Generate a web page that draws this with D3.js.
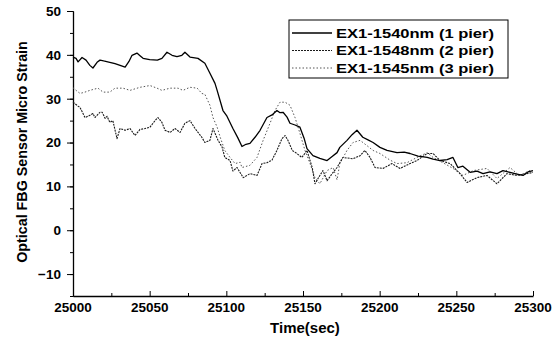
<!DOCTYPE html>
<html>
<head>
<meta charset="utf-8">
<script src="https://cdn.jsdelivr.net/npm/d3@7"></script>
<style>
  body { margin: 0; background: #fff; }
  text { font-family: "Liberation Sans", Arial, sans-serif; font-weight: bold; fill: #000; }
</style>
</head>
<body>
<div id="chart"></div>
<script>
// time offsets (sec after 25000) and strain values
const solidTime = [0, 2, 3.3, 5.9, 8.5, 11, 13, 15.7, 17.6, 20, 24, 27.4, 30.7, 34, 36.5, 38.5, 41.7, 43.7, 45.7, 50, 55, 58, 61.3, 64.6, 67.8, 71, 73, 76.3, 81.5, 86, 89.3, 92.6, 94, 97.8, 100.4, 104.3, 107.6, 110.2, 112.8, 115.4, 118.7, 122, 126.5, 129.8, 133, 135, 137, 139.6, 141.5, 144.8, 148, 150.7, 152.6, 156.5, 161, 165.7, 169, 172.2, 174, 178.7, 182, 185.2, 189, 192.4, 195.7, 200.2, 204.8, 211.3, 216, 219.8, 225, 231, 234.8, 239.4, 244, 247.8, 251, 254.3, 259, 263.5, 267.4, 272, 276.5, 280.4, 285, 289.6, 293.5, 296.7, 300];
const solidVals = [39.5, 39.2, 38.4, 39.4, 38.8, 37.6, 37.0, 38.3, 38.8, 38.6, 38.3, 38.0, 37.6, 37.2, 38.5, 39.9, 40.4, 39.8, 39.2, 38.9, 38.8, 39.2, 40.6, 39.9, 39.6, 39.9, 40.6, 39.5, 39.2, 38.1, 35.8, 33.5, 31.9, 27.3, 26.0, 23.2, 21.0, 19.1, 19.6, 19.8, 21.2, 22.8, 25.7, 26.3, 27.3, 26.8, 26.9, 25.8, 24.4, 24.0, 23.5, 21.0, 18.6, 17.0, 16.4, 15.9, 16.8, 17.7, 18.9, 20.5, 21.8, 22.8, 21.2, 20.6, 20.0, 18.9, 18.2, 17.7, 17.8, 17.5, 16.9, 16.6, 16.2, 15.9, 16.1, 16.6, 14.3, 14.6, 13.2, 13.5, 12.9, 13.3, 12.9, 13.6, 13.2, 12.8, 12.5, 13.3, 13.6];

const lowTime = [0, 3.3, 4.6, 7.8, 11, 13, 14.3, 17.6, 19, 21, 22.2, 24, 26, 28.7, 30.7, 34, 37.2, 40.4, 43.7, 47, 50.2, 53.5, 55.4, 58, 60, 63.3, 66.5, 69.8, 73, 76.3, 79.6, 84, 86, 89.3, 91.3, 94.6, 97.2, 99, 102.4, 104.3, 107, 111, 115.4, 120, 123.3, 126.5, 129.8, 133, 136.3, 138.3, 140.2, 143, 146, 149.3, 152.6, 156, 157.8, 161, 163, 165.7, 169, 172.2, 176, 182.6, 187.2, 190.4, 193.7, 197, 202.2, 208, 213.3, 219.8, 224.3, 231, 234.8, 239.4, 246, 252.4, 257, 263.5, 270, 276.5, 283, 289.6, 296, 300];
const lowVals = [29.2, 28.3, 28.0, 25.7, 26.2, 26.6, 25.7, 26.9, 26.9, 25.5, 26.0, 24.6, 25.0, 20.9, 23.2, 22.8, 23.2, 21.6, 23.0, 23.2, 23.5, 25.0, 25.7, 24.6, 22.8, 22.3, 23.2, 22.3, 24.4, 25.0, 23.2, 21.2, 20.0, 20.5, 23.2, 20.5, 19.0, 16.6, 15.9, 13.5, 14.3, 12.0, 12.9, 12.5, 15.2, 15.4, 16.0, 18.2, 20.9, 21.6, 20.5, 18.2, 17.5, 16.6, 18.2, 14.3, 10.6, 12.5, 13.6, 11.3, 12.9, 14.3, 16.6, 16.3, 17.0, 18.2, 16.6, 14.3, 14.1, 15.2, 14.1, 15.2, 15.9, 17.5, 17.5, 15.9, 15.2, 12.9, 10.9, 12.0, 12.5, 10.6, 12.9, 12.5, 12.9, 13.2];

const midTime = [0, 2, 4.6, 7.8, 11, 16.3, 19.6, 24, 27.4, 32.6, 37.2, 43.7, 50.2, 54.8, 58, 63.3, 68.5, 71.7, 76.3, 81, 84, 86, 89.3, 91.3, 94, 96, 99, 102.4, 105.7, 109, 110.2, 115.4, 120, 124, 128.5, 131.7, 135, 138.3, 141.5, 144.8, 148, 151.3, 154.6, 157.8, 161, 165.7, 169.6, 172.2, 174, 178.7, 182.6, 187.2, 191.7, 195.7, 200.2, 206.7, 211.3, 217.8, 224.3, 231, 234.8, 241.3, 247.8, 254.3, 261, 270, 276.5, 285, 291, 298];
const midVals = [32.5, 31.9, 31.2, 31.5, 31.9, 32.4, 31.5, 31.5, 32.4, 32.4, 31.9, 32.6, 33.0, 32.4, 31.9, 32.4, 32.4, 31.9, 32.6, 32.4, 31.2, 31.0, 28.5, 25.7, 23.5, 21.2, 18.2, 16.6, 15.2, 15.5, 14.3, 14.8, 16.6, 20.5, 24.4, 27.3, 29.2, 29.2, 28.5, 25.7, 22.1, 18.2, 15.2, 12.0, 10.6, 13.6, 14.3, 11.5, 15.2, 18.2, 20.0, 20.5, 19.3, 18.2, 17.5, 16.0, 15.2, 15.4, 16.6, 17.7, 16.6, 15.4, 14.1, 12.5, 13.6, 14.1, 11.8, 14.3, 12.5, 13.6];

const yTicks = [-10, 0, 10, 20, 30, 40, 50];
const xTicks = [25000, 25050, 25100, 25150, 25200, 25250, 25300];

const series = [
  { name: "EX1-1540nm (1 pier)", time: solidTime, vals: solidVals, color: "#000", dash: null, width: 1.3 },
  { name: "EX1-1548nm (2 pier)", time: lowTime, vals: lowVals, color: "#1a1a1a", dash: "2,1", width: 1.1 },
  { name: "EX1-1545nm (3 pier)", time: midTime, vals: midVals, color: "#555", dash: "1.5,2", width: 1 }
];

const width = 553, height = 342;
const svg = d3.select("#chart").append("svg")
  .attr("width", width).attr("height", height);

const x = d3.scaleLinear().domain([25000, 25300]).range([73, 533]);
const y = d3.scaleLinear().domain([-15, 50]).range([296, 11]);

// y axis: majors outward, minors at 5
svg.append("g")
  .attr("transform", "translate(73,0)")
  .call(d3.axisLeft(y).tickValues(d3.range(-15, 51, 5)).tickSize(3).tickFormat(""))
  .call(g => g.selectAll("line").attr("stroke", "#000"));
svg.append("g")
  .attr("transform", "translate(73,0)")
  .call(d3.axisLeft(y).tickValues(yTicks).tickSize(6).tickPadding(6).tickSizeOuter(0))
  .call(g => g.select(".domain").attr("stroke", "#000").attr("stroke-width", 1.3))
  .call(g => g.selectAll(".tick text").style("font-size", "13.5px").attr("font-family", null));

// x axis: ticks pointing inward
svg.append("g")
  .attr("transform", "translate(0,296)")
  .call(d3.axisTop(x).tickValues(d3.range(25025, 25300, 50)).tickSize(3).tickFormat(""))
  .call(g => g.select(".domain").remove());
svg.append("g")
  .attr("transform", "translate(0,296)")
  .call(d3.axisTop(x).tickValues(xTicks).tickSize(5).tickFormat("").tickSizeOuter(0))
  .call(g => g.select(".domain").attr("stroke", "#000").attr("stroke-width", 1.3));
svg.append("g")
  .selectAll("text")
  .data(xTicks)
  .join("text")
  .attr("x", d => x(d))
  .attr("y", 312)
  .attr("text-anchor", "middle")
  .style("font-size", "13.5px")
  .text(d => d);

// titles
svg.append("text")
  .attr("x", 305).attr("y", 333)
  .attr("text-anchor", "middle")
  .style("font-size", "15px")
  .text("Time(sec)");
svg.append("text")
  .attr("transform", "translate(27,152) rotate(-90)")
  .attr("text-anchor", "middle")
  .style("font-size", "14.3px")
  .text("Optical FBG Sensor Micro Strain");

// lines
const line = d3.line()
  .x(d => x(25000 + d[0]))
  .y(d => y(d[1]));

series.slice().reverse().forEach(s => {
  svg.append("path")
    .datum(d3.zip(s.time, s.vals))
    .attr("fill", "none")
    .attr("stroke", s.color)
    .attr("stroke-width", s.width)
    .attr("stroke-dasharray", s.dash)
    .attr("stroke-linejoin", "round")
    .attr("d", line);
});

// legend
const lg = svg.append("g").attr("transform", "translate(289,20)");
lg.append("rect")
  .attr("width", 219).attr("height", 58)
  .attr("fill", "#fff").attr("stroke", "#000").attr("stroke-width", 1);
series.forEach((s, i) => {
  const cy = 13 + i * 17.5;
  lg.append("line")
    .attr("x1", 3).attr("x2", 43).attr("y1", cy).attr("y2", cy)
    .attr("stroke", s.color).attr("stroke-width", s.width)
    .attr("stroke-dasharray", s.dash);
  lg.append("text")
    .attr("x", 47).attr("y", cy + 4.5)
    .attr("textLength", 158).attr("lengthAdjust", "spacingAndGlyphs")
    .style("font-size", "13px")
    .text(s.name);
});
</script>
</body>
</html>
